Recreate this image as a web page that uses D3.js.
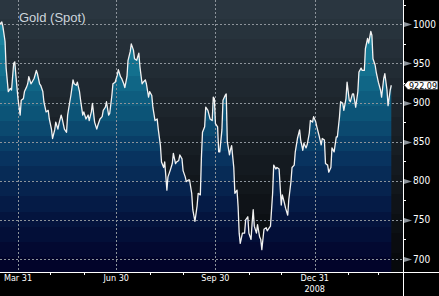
<!DOCTYPE html>
<html>
<head>
<meta charset="utf-8">
<script src="https://cdn.jsdelivr.net/npm/d3@7"></script>
<style>
  html, body { margin: 0; padding: 0; background: #000; }
  svg { display: block; }
</style>
</head>
<body>
<div class="container"></div>
<script>
const width = 439;
const height = 296;
const margin = { top: 0, right: 36, bottom: 24, left: 0 }

const title = "Gold (Spot)";
const lastLabel = "922.09";
const yearLabel = "2008";

// daily closes
const dates = [
  "2008-03-14","2008-03-16","2008-03-17","2008-03-19","2008-03-20","2008-03-22","2008-03-24","2008-03-25",
  "2008-03-27","2008-03-28","2008-03-29","2008-03-31","2008-04-02","2008-04-03","2008-04-05","2008-04-06",
  "2008-04-08","2008-04-09","2008-04-10","2008-04-12","2008-04-13","2008-04-15","2008-04-17","2008-04-18",
  "2008-04-20","2008-04-21","2008-04-23","2008-04-24","2008-04-26","2008-04-28","2008-04-29","2008-05-01",
  "2008-05-02","2008-05-04","2008-05-05","2008-05-07","2008-05-08","2008-05-10","2008-05-11","2008-05-13",
  "2008-05-15","2008-05-16","2008-05-18","2008-05-19","2008-05-21","2008-05-22","2008-05-24","2008-05-25",
  "2008-05-27","2008-05-28","2008-05-30","2008-05-31","2008-06-02","2008-06-04","2008-06-05","2008-06-07",
  "2008-06-08","2008-06-10","2008-06-12","2008-06-13","2008-06-15","2008-06-17","2008-06-18","2008-06-20",
  "2008-06-21","2008-06-23","2008-06-24","2008-06-26","2008-06-27","2008-06-29","2008-07-01","2008-07-02",
  "2008-07-04","2008-07-05","2008-07-07","2008-07-08","2008-07-10","2008-07-11","2008-07-13","2008-07-14",
  "2008-07-16","2008-07-17","2008-07-19","2008-07-21","2008-07-22","2008-07-24","2008-07-25","2008-07-27",
  "2008-07-28","2008-07-30","2008-07-31","2008-08-02","2008-08-03","2008-08-05","2008-08-07","2008-08-08",
  "2008-08-10","2008-08-11","2008-08-13","2008-08-14","2008-08-16","2008-08-17","2008-08-19","2008-08-21",
  "2008-08-22","2008-08-24","2008-08-25","2008-08-27","2008-08-28","2008-08-30","2008-08-31","2008-09-02",
  "2008-09-03","2008-09-05","2008-09-06","2008-09-08","2008-09-09","2008-09-11","2008-09-13","2008-09-14",
  "2008-09-16","2008-09-17","2008-09-18","2008-09-20","2008-09-21","2008-09-23","2008-09-25","2008-09-27",
  "2008-09-28","2008-09-29","2008-09-30","2008-10-02","2008-10-03","2008-10-04","2008-10-06","2008-10-07",
  "2008-10-09","2008-10-10","2008-10-11","2008-10-13","2008-10-14","2008-10-15","2008-10-17","2008-10-18",
  "2008-10-20","2008-10-21","2008-10-22","2008-10-23","2008-10-25","2008-10-27","2008-10-28","2008-10-30",
  "2008-10-31","2008-11-02","2008-11-03","2008-11-04","2008-11-05","2008-11-07","2008-11-08","2008-11-10",
  "2008-11-11","2008-11-12","2008-11-14","2008-11-16","2008-11-17","2008-11-19","2008-11-20","2008-11-22",
  "2008-11-23","2008-11-25","2008-11-26","2008-11-28","2008-11-30","2008-12-01","2008-12-03","2008-12-04",
  "2008-12-06","2008-12-07","2008-12-09","2008-12-10","2008-12-12","2008-12-13","2008-12-15","2008-12-17",
  "2008-12-18","2008-12-20","2008-12-21","2008-12-23","2008-12-24","2008-12-26","2008-12-27","2008-12-29",
  "2008-12-30","2009-01-01","2009-01-02","2009-01-04","2009-01-06","2009-01-07","2009-01-09","2009-01-10",
  "2009-01-12","2009-01-13","2009-01-15","2009-01-16","2009-01-18","2009-01-20","2009-01-21","2009-01-23",
  "2009-01-24","2009-01-26","2009-01-27","2009-01-29","2009-01-30","2009-02-01","2009-02-02","2009-02-04",
  "2009-02-05","2009-02-07","2009-02-09","2009-02-10","2009-02-12","2009-02-13","2009-02-15","2009-02-16",
  "2009-02-18","2009-02-19","2009-02-21","2009-02-22","2009-02-23","2009-02-25","2009-02-26","2009-02-28",
  "2009-03-02","2009-03-03","2009-03-05","2009-03-06","2009-03-08","2009-03-09","2009-03-11","2009-03-12"
];
const prices = [
  1000,1003,997,978,944,914,918,916,
  950,952,935,905,884,903,905,914,
  920,924,933,924,926,931,941,937,
  924,922,914,901,888,890,879,866,
  854,865,875,866,873,884,879,866,
  862,884,901,909,929,924,922,926,
  914,903,884,888,879,884,877,888,
  899,875,866,871,879,882,890,894,
  901,884,886,909,924,926,935,942,
  933,931,924,919,933,954,965,975,
  967,956,954,963,946,924,926,929,
  924,907,914,909,894,877,879,866,
  845,824,817,824,788,805,813,822,
  835,822,824,826,833,828,813,805,
  799,801,801,784,763,748,768,784,
  782,830,862,869,894,890,879,877,
  907,905,873,869,837,837,865,903,
  909,911,850,833,840,845,817,784,
  788,767,733,720,733,733,750,754,
  733,725,746,763,742,733,744,728,
  725,712,738,740,736,740,742,784,
  820,815,817,815,769,782,771,765,
  756,776,799,817,820,837,854,865,
  852,839,848,842,846,861,877,875,
  882,875,869,858,846,854,852,822,
  820,811,817,842,837,856,856,882,
  901,899,890,905,926,903,901,911,
  911,894,914,939,944,941,941,969,
  982,976,991,986,956,948,939,926,
  916,907,931,937,916,896,916,922.09
];

const yTicks = [700, 750, 800, 850, 900, 950, 1000];
const yMinor = [725, 775, 825, 875, 925, 975, 1025];
const quarterDates = ["2008-03-31", "2008-06-30", "2008-09-30", "2008-12-31"];
const quarterLabels = ["Mar 31", "Jun 30", "Sep 30", "Dec 31"];
const monthEnds = ["2008-04-30","2008-05-31","2008-07-31","2008-08-31","2008-10-31","2008-11-30","2009-01-31","2009-02-28"];

const parse = d3.utcParse("%Y-%m-%d");
const data = dates.map((d, i) => ({ date: parse(d), value: prices[i] }));

const plotW = width - margin.right;   // 403
const plotH = height - margin.bottom; // 272

const x = d3.scaleUtc()
    .domain([parse("2008-03-31"), parse("2008-12-31")])
    .range([18, 314.7]);

const y = d3.scaleLinear()
    .domain([700, 1000])
    .range([259, 24.3]);

const svg = d3.select(".container")
    .append("svg")
    .attr("width", width)
    .attr("height", height)
    .attr("viewBox", [0, 0, width, height]);

svg.append("rect").attr("width", width).attr("height", height).attr("fill", "#000");

const defs = svg.append("defs");

// banded gradient helper
function banded(id, colors) {
  const g = defs.append("linearGradient")
      .attr("id", id)
      .attr("gradientUnits", "userSpaceOnUse")
      .attr("x1", 0).attr("x2", 0).attr("y1", 0).attr("y2", plotH);
  const n = colors.length;
  colors.forEach((c, i) => {
    g.append("stop").attr("offset", i / n).attr("stop-color", c);
    g.append("stop").attr("offset", (i + 1) / n).attr("stop-color", c);
  });
}

const bgInterp = d3.interpolateRgb("#2a3640", "#07090c");
banded("bg", d3.range(14).map(i => bgInterp(i / 13)));

const areaInterp = d3.piecewise(d3.interpolateRgb, ["#2494ae", "#147592", "#0c5679", "#08315d", "#041641", "#02042a"]);
banded("fill", d3.range(18).map(i => areaInterp(i / 17)));

svg.append("clipPath").attr("id", "clip")
  .append("rect").attr("width", plotW).attr("height", plotH);

svg.append("rect")
    .attr("width", plotW)
    .attr("height", plotH)
    .attr("fill", "url(#bg)");

const plot = svg.append("g").attr("clip-path", "url(#clip)");

const area = d3.area()
    .x(d => x(d.date))
    .y0(plotH)
    .y1(d => y(d.value));

const line = d3.line()
    .x(d => x(d.date))
    .y(d => y(d.value));

plot.append("path")
    .datum(data)
    .attr("d", area)
    .attr("fill", "url(#fill)");

// grid
plot.selectAll(".hgrid")
  .data(yTicks)
  .join("line")
    .attr("x1", 0).attr("x2", plotW)
    .attr("y1", d => Math.round(y(d)) + 0.5)
    .attr("y2", d => Math.round(y(d)) + 0.5)
    .attr("stroke", "#8c939a")
    .attr("stroke-dasharray", "2,2");

plot.selectAll(".vgrid")
  .data(quarterDates)
  .join("line")
    .attr("x1", d => Math.round(x(parse(d))) + 0.5)
    .attr("x2", d => Math.round(x(parse(d))) + 0.5)
    .attr("y1", 0).attr("y2", plotH)
    .attr("stroke", "#8c939a")
    .attr("stroke-dasharray", "2,2");

plot.append("path")
    .datum(data)
    .attr("d", line)
    .attr("fill", "none")
    .attr("stroke", "#f2f2f2")
    .attr("stroke-width", 1.3)
    .attr("stroke-linejoin", "round");

// title
svg.append("text")
    .attr("x", 19)
    .attr("y", 22)
    .attr("fill", "#cdd5dc")
    .style("font", "13px 'Liberation Sans', sans-serif")
    .text(title);

// axes lines
svg.append("line")
    .attr("x1", plotW + 0.5).attr("x2", plotW + 0.5)
    .attr("y1", 0).attr("y2", height)
    .attr("stroke", "#fff");
svg.append("line")
    .attr("x1", 0).attr("x2", width)
    .attr("y1", plotH + 0.5).attr("y2", plotH + 0.5)
    .attr("stroke", "#fff");

const axisFont = "10px 'Liberation Sans Narrow', 'DejaVu Sans Condensed', 'Arial Narrow', sans-serif";

// right axis
const right = svg.append("g");
right.selectAll(".minor")
  .data(yMinor)
  .join("line")
    .attr("x1", plotW).attr("x2", plotW + 3)
    .attr("y1", d => Math.round(y(d)) + 0.5)
    .attr("y2", d => Math.round(y(d)) + 0.5)
    .attr("stroke", "#fff");

right.selectAll(".arrow")
  .data(yTicks)
  .join("path")
    .attr("d", d => {
      const yy = Math.round(y(d)) + 0.5;
      return `M${plotW + 1},${yy - 2.5}L${plotW + 9},${yy}L${plotW + 1},${yy + 2.5}Z`;
    })
    .attr("fill", "#8c939a");

right.selectAll(".ylab")
  .data(yTicks)
  .join("text")
    .attr("x", plotW + 10)
    .attr("y", d => y(d))
    .attr("dy", "0.36em")
    .attr("fill", "#fff")
    .style("font", axisFont)
    .text(d => d);

// last value tag
const last = data[data.length - 1];
const ly = y(last.value);
right.append("path")
    .attr("d", `M${plotW + 1},${ly}L${plotW + 5},${ly - 4.5}L${width - 1},${ly - 4.5}L${width - 1},${ly + 4.5}L${plotW + 5},${ly + 4.5}Z`)
    .attr("fill", "#fff")
    .attr("stroke", "#000")
    .attr("stroke-width", 0.8);
right.append("text")
    .attr("x", plotW + 6)
    .attr("y", ly)
    .attr("dy", "0.36em")
    .attr("fill", "#000")
    .attr("textLength", 28)
    .attr("lengthAdjust", "spacingAndGlyphs")
    .style("font", "9.5px 'Liberation Sans Narrow', 'DejaVu Sans Condensed', 'Arial Narrow', sans-serif")
    .text(lastLabel);

// bottom axis
const bottom = svg.append("g");
bottom.selectAll(".mtick")
  .data(monthEnds)
  .join("line")
    .attr("x1", d => Math.round(x(parse(d))) + 0.5)
    .attr("x2", d => Math.round(x(parse(d))) + 0.5)
    .attr("y1", plotH).attr("y2", plotH + 3)
    .attr("stroke", "#fff");

bottom.selectAll(".xlab")
  .data(quarterDates)
  .join("text")
    .attr("x", d => x(parse(d)))
    .attr("y", plotH + 9)
    .attr("text-anchor", "middle")
    .attr("fill", "#fff")
    .style("font", "9px 'Liberation Sans Narrow', 'DejaVu Sans Condensed', 'Arial Narrow', sans-serif")
    .text((d, i) => quarterLabels[i]);

bottom.append("text")
    .attr("x", x(parse("2008-12-31")))
    .attr("y", plotH + 20)
    .attr("text-anchor", "middle")
    .attr("fill", "#fff")
    .style("font", "9px 'Liberation Sans Narrow', 'DejaVu Sans Condensed', 'Arial Narrow', sans-serif")
    .text(yearLabel);
</script>
</body>
</html>
